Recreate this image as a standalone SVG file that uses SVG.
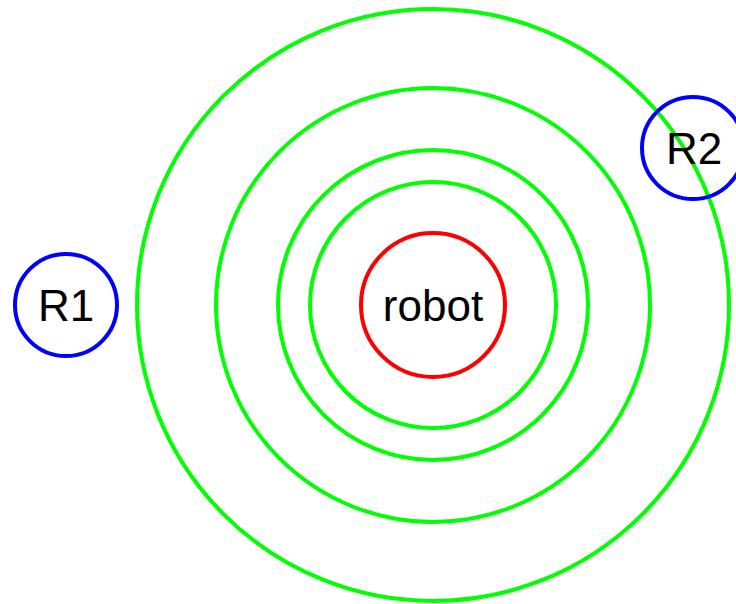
<svg xmlns="http://www.w3.org/2000/svg" width="736" height="604" viewBox="0 0 736 604">
  <style>
    .range { fill: none; stroke: #00ff00; stroke-width: 4; }
    .robot { fill: none; stroke: #ff0000; stroke-width: 4; }
    .beacon { fill: none; stroke: #0000ff; stroke-width: 4; }
    .label { font-family: "Liberation Sans", Arial, sans-serif; font-size: 44px; fill: #000; text-anchor: middle; }
  </style>
  <rect width="736" height="604" fill="#fff"/>
  <!-- range rings around the robot -->
  <g id="rings">
    <circle class="range" cx="433" cy="305" r="296"/>
    <circle class="range" cx="433" cy="305" r="217"/>
    <circle class="range" cx="433" cy="305" r="155"/>
    <circle class="range" cx="433" cy="305" r="123"/>
  </g>
  <g id="robot">
    <circle class="robot" cx="433" cy="305" r="72"/>
    <text class="label" x="433" y="321">robot</text>
  </g>
  <g id="R1">
    <circle class="beacon" cx="66" cy="305" r="51"/>
    <text class="label" x="66" y="321">R1</text>
  </g>
  <g id="R2">
    <circle class="beacon" cx="693" cy="148" r="51"/>
    <text class="label" x="694" y="164">R2</text>
  </g>
</svg>
